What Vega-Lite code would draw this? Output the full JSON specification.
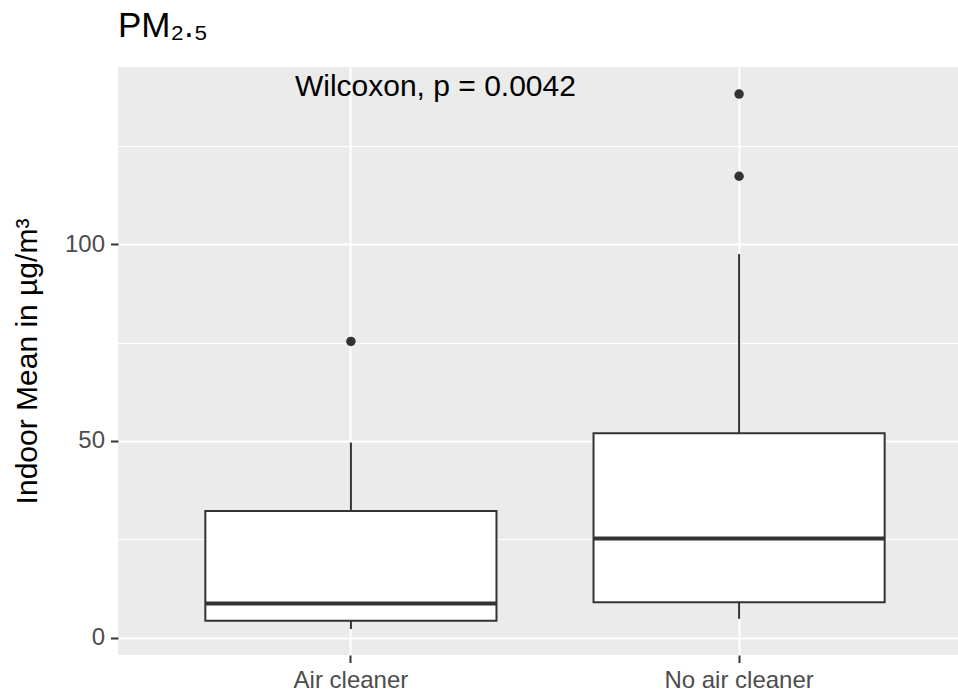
{
  "$schema": "https://vega.github.io/schema/vega-lite/v6.json",
  "width": 840,
  "height": 588,
  "autosize": {"type": "none"},
  "padding": {"left": 118, "top": 67, "right": 0, "bottom": 39},
  "background": "white",
  "title": {"text": "PM₂.₅", "anchor": "start", "frame": "group", "fontSize": 35, "font": "Liberation Sans", "fontWeight": "normal", "color": "black", "baseline": "alphabetic", "offset": -5},
  "config": {"view": {"fill": "#EBEBEB", "stroke": null}, "font": "Liberation Sans", "axis": {"domain": false}},
  "datasets": {
    "boxes": [
      {"group": "Air cleaner", "lower": 2.2, "q1": 4.3, "median": 8.7, "q3": 32.2, "upper": 49.6},
      {"group": "No air cleaner", "lower": 4.8, "q1": 9.0, "median": 25.2, "q3": 52.0, "upper": 97.5}
    ],
    "outliers": [
      {"group": "Air cleaner", "value": 75.3},
      {"group": "No air cleaner", "value": 117.3},
      {"group": "No air cleaner", "value": 138.2}
    ],
    "label": [
      {"group": "Air cleaner", "value": 137.7, "text": "Wilcoxon, p = 0.0042"}
    ]
  },
  "resolve": {"axis": {"y": "independent"}},
  "layer": [
    {
      "data": {"name": "boxes"},
      "mark": {"type": "rule", "color": "#333333", "strokeWidth": 2},
      "encoding": {
        "x": {
          "field": "group", "type": "nominal",
          "scale": {"domain": ["Air cleaner", "No air cleaner"], "paddingInner": 0, "paddingOuter": 0.1, "range": [0, 854]},
          "axis": {"title": null, "labelAngle": 0, "labelFontSize": 24, "labelColor": "#4D4D4D", "tickColor": "#333333", "tickSize": 7.5, "tickWidth": 2, "domain": false, "grid": true, "gridColor": "white", "gridWidth": 2, "labelPadding": 6, "bandPosition": 0.5}
        },
        "y": {
          "field": "lower", "type": "quantitative",
          "scale": {"domain": [-4.4, 145.07], "nice": false, "zero": false},
          "axis": {"orient": "left", "values": [0, 50, 100], "labelFontSize": 24, "labelColor": "#4D4D4D", "tickColor": "#333333", "tickSize": 7.5, "tickWidth": 2, "domain": false, "grid": true, "gridColor": "white", "gridWidth": 2, "labelPadding": 6, "title": "Indoor Mean in µg/m³", "titleFontSize": 30, "titleFontWeight": "normal", "titleColor": "black", "titlePadding": 22}
        },
        "y2": {"field": "q1"}
      }
    },
    {
      "data": {"name": "boxes"},
      "mark": {"type": "rule", "color": "#333333", "strokeWidth": 2},
      "encoding": {
        "x": {"field": "group", "type": "nominal"},
        "y": {
          "field": "q3", "type": "quantitative",
          "axis": {"orient": "right", "values": [25, 75, 125], "labels": false, "ticks": false, "domain": false, "title": null, "grid": true, "gridColor": "white", "gridWidth": 1.1}
        },
        "y2": {"field": "upper"}
      }
    },
    {
      "data": {"name": "boxes"},
      "mark": {"type": "bar", "fill": "white", "stroke": "#333333", "strokeWidth": 2, "width": {"band": 0.75}},
      "encoding": {
        "x": {"field": "group", "type": "nominal"},
        "y": {"field": "q1", "type": "quantitative", "axis": null},
        "y2": {"field": "q3"}
      }
    },
    {
      "data": {"name": "boxes"},
      "mark": {"type": "tick", "color": "#333333", "size": 291, "thickness": 4, "opacity": 1},
      "encoding": {
        "x": {"field": "group", "type": "nominal"},
        "y": {"field": "median", "type": "quantitative", "axis": null}
      }
    },
    {
      "data": {"name": "outliers"},
      "mark": {"type": "point", "filled": true, "color": "#333333", "size": 90, "opacity": 1},
      "encoding": {
        "x": {"field": "group", "type": "nominal"},
        "y": {"field": "value", "type": "quantitative", "axis": null}
      }
    },
    {
      "data": {"name": "label"},
      "mark": {"type": "text", "align": "left", "baseline": "alphabetic", "dx": -56, "fontSize": 30, "color": "black", "font": "Liberation Sans"},
      "encoding": {
        "x": {"field": "group", "type": "nominal"},
        "y": {"field": "value", "type": "quantitative", "axis": null},
        "text": {"field": "text"}
      }
    }
  ]
}
